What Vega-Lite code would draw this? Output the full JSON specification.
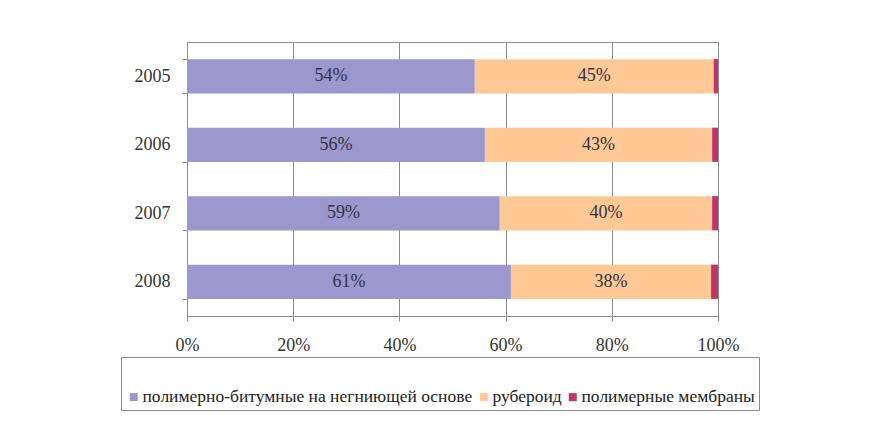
{
  "$schema": "https://vega.github.io/schema/vega-lite/v6.json",
  "width": 531,
  "height": 274,
  "autosize": {"type": "none"},
  "padding": {"left": 187, "top": 42, "right": 151, "bottom": 116},
  "background": "white",
  "config": {
    "view": {"stroke": "#8c8c8c", "strokeWidth": 1},
    "font": "Times New Roman, Liberation Serif, serif",
    "text": {"font": "Times New Roman, Liberation Serif, serif"},
    "legend": {"labelFont": "Times New Roman, Liberation Serif, serif", "titleFont": "Times New Roman, Liberation Serif, serif"}
  },
  "data": {
    "values": [
      {"year": "2005", "type": "полимерно-битумные на негниющей основе", "order": 1, "share": 0.542},
      {"year": "2005", "type": "рубероид", "order": 2, "share": 0.450},
      {"year": "2005", "type": "полимерные мембраны", "order": 3, "share": 0.008},
      {"year": "2006", "type": "полимерно-битумные на негниющей основе", "order": 1, "share": 0.561},
      {"year": "2006", "type": "рубероид", "order": 2, "share": 0.428},
      {"year": "2006", "type": "полимерные мембраны", "order": 3, "share": 0.011},
      {"year": "2007", "type": "полимерно-битумные на негниющей основе", "order": 1, "share": 0.589},
      {"year": "2007", "type": "рубероид", "order": 2, "share": 0.400},
      {"year": "2007", "type": "полимерные мембраны", "order": 3, "share": 0.011},
      {"year": "2008", "type": "полимерно-битумные на негниющей основе", "order": 1, "share": 0.610},
      {"year": "2008", "type": "рубероид", "order": 2, "share": 0.377},
      {"year": "2008", "type": "полимерные мембраны", "order": 3, "share": 0.013}
    ]
  },
  "encoding": {
    "y": {
      "field": "year",
      "type": "nominal",
      "sort": ["2005", "2006", "2007", "2008"],
      "scale": {"paddingInner": 0.5, "paddingOuter": 0.25},
      "axis": {
        "title": null,
        "tickBand": "extent",
        "domainColor": "#8c8c8c",
        "tickColor": "#8c8c8c",
        "tickSize": 5,
        "labelFontSize": 18,
        "labelColor": "#333333",
        "labelPadding": 12,
        "labelFont": "Times New Roman, Liberation Serif, serif"
      }
    }
  },
  "layer": [
    {
      "mark": {"type": "bar"},
      "encoding": {
        "x": {
          "field": "share",
          "type": "quantitative",
          "stack": "zero",
          "scale": {"domain": [0, 1]},
          "axis": {
            "title": null,
            "values": [0, 0.2, 0.4, 0.6, 0.8, 1],
            "format": ".0%",
            "grid": true,
            "gridColor": "#8c8c8c",
            "gridOpacity": 1,
            "domainColor": "#8c8c8c",
            "tickColor": "#8c8c8c",
            "tickSize": 5,
            "labelFlush": false,
            "labelPadding": 15,
            "labelFontSize": 18,
            "labelColor": "#333333",
            "labelFont": "Times New Roman, Liberation Serif, serif"
          }
        },
        "color": {
          "field": "type",
          "type": "nominal",
          "scale": {
            "domain": ["полимерно-битумные на негниющей основе", "рубероид", "полимерные мембраны"],
            "range": ["#9a98cc", "#fec995", "#c23369"]
          },
          "legend": {
            "orient": "none",
            "legendX": -66,
            "legendY": 315,
            "direction": "horizontal",
            "title": "\u00a0",
            "titleFontSize": 16,
            "titlePadding": 11,
            "padding": 4,
            "strokeColor": "#8c8c8c",
            "symbolType": "square",
            "symbolSize": 64,
            "symbolStrokeWidth": 0,
            "symbolOpacity": 1,
            "labelFontSize": 17.5,
            "labelFont": "Times New Roman, Liberation Serif, serif",
            "labelColor": "#222222",
            "labelOffset": 0,
            "labelLimit": 400,
            "columnPadding": 2
          }
        },
        "order": {"field": "order"}
      }
    },
    {
      "transform": [{"filter": "datum.order < 3"}],
      "mark": {"type": "text", "fontSize": 18, "font": "Times New Roman, Liberation Serif, serif", "color": "#333344"},
      "encoding": {
        "x": {"field": "share", "type": "quantitative", "stack": "zero", "bandPosition": 0.5},
        "text": {"field": "share", "type": "quantitative", "format": ".0%"},
        "order": {"field": "order"}
      }
    }
  ]
}
